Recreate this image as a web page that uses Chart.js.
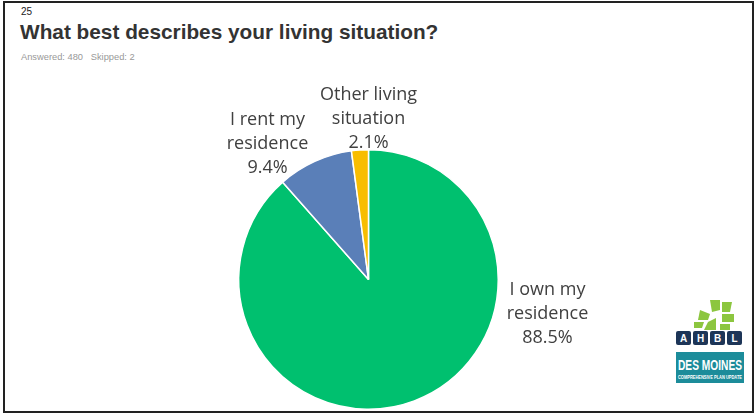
<!DOCTYPE html>
<html>
<head>
<meta charset="utf-8">
<script src="https://cdn.jsdelivr.net/npm/chart.js"></script>
<style>
  html, body { margin: 0; padding: 0; background: #fff; }
  #slide {
    position: relative; width: 755px; height: 414px; overflow: hidden;
    font-family: "Liberation Sans", Arial, sans-serif;
  }
  #frame {
    position: absolute; left: 3px; top: 1px; width: 747px; height: 408px;
    border: 2px solid #222;
  }
  #num { position: absolute; left: 21px; top: 6px; font-size: 10px; color: #222; }
  #title { position: absolute; left: 20px; top: 20px; font-size: 20.8px; font-weight: bold; color: #333; }
  #sub { position: absolute; left: 21px; top: 52px; font-size: 9.3px; color: #999; }
  #chartBox { position: absolute; left: 200px; top: 75px; width: 440px; height: 337px; }
  #logos { position: absolute; left: 674px; top: 298px; width: 72px; height: 90px; }
</style>
</head>
<body>
<div id="slide">
  <div id="frame"></div>
  <div id="num">25</div>
  <div id="title">What best describes your living situation?</div>
  <div id="sub">Answered: 480&nbsp;&nbsp;&nbsp;Skipped: 2</div>
  <div id="chartBox"><canvas id="pie"></canvas></div>
  <svg id="logos" width="72" height="90" viewBox="0 0 72 90">
    <!-- leaves -->
    <g fill="#8cc63f">
      <polygon points="36,2 46,2 46,12 38,14"/>
      <polygon points="48,4 58,4 56,14 48,14"/>
      <polygon points="26,12 36,16 34,22 24,22"/>
      <polygon points="48,16 60,16 60,24 48,24"/>
      <polygon points="34,24 42,20 42,32 30,32"/>
      <polygon points="46,26 56,26 56,32 46,32"/>
      <polygon points="20,24 30,24 28,30 20,30"/>
    </g>
    <!-- AHBL letters -->
    <g fill="#1d3557">
      <rect x="2" y="33" width="15" height="14" rx="2"/>
      <rect x="19" y="33" width="15" height="14" rx="2"/>
      <rect x="36" y="33" width="15" height="14" rx="2"/>
      <rect x="53" y="33" width="15" height="14" rx="2"/>
    </g>
    <g fill="#fff" font-family="Liberation Sans, Arial" font-weight="bold" font-size="10" text-anchor="middle">
      <text x="9.5" y="44">A</text>
      <text x="26.5" y="44">H</text>
      <text x="43.5" y="44">B</text>
      <text x="60.5" y="44">L</text>
    </g>
    <!-- Des Moines -->
    <rect x="2" y="54" width="68" height="31" fill="#1c8c9a"/>
    <text x="36" y="72" fill="#fff" font-family="Liberation Sans Narrow, Liberation Sans, Arial" font-weight="bold" font-size="14" text-anchor="middle" textLength="64" lengthAdjust="spacingAndGlyphs">DES MOINES</text>
    <text x="36" y="81" fill="#fff" font-family="Liberation Sans Narrow, Liberation Sans, Arial" font-weight="bold" font-size="5" text-anchor="middle" textLength="64" lengthAdjust="spacingAndGlyphs">COMPREHENSIVE PLAN UPDATE</text>
  </svg>
</div>
<script>
// --- data ---
const categories = ["I own my residence", "I rent my residence", "Other living situation"];
const shares = [88.5, 9.4, 2.1];
const sliceColors = ["#00c06f", "#5a7fb8", "#f8bd00"];

// label text lines and where to put them (offset from pie centre, px)
const labelLines = [
  ["I own my", "residence", "88.5%"],
  ["I rent my", "residence", "9.4%"],
  ["Other living", "situation", "2.1%"]
];
const labelOffsets = [[179, 34], [-101, -136], [0, -161]];

const outsideLabels = {
  id: 'outsideLabels',
  afterDatasetsDraw(chart) {
    const ctx = chart.ctx;
    const arcs = chart.getDatasetMeta(0).data;
    const cx = arcs[0].x, cy = arcs[0].y;
    ctx.save();
    ctx.font = '18px "Open Sans", "Noto Sans", sans-serif';
    ctx.fillStyle = '#404040';
    ctx.textAlign = 'center';
    ctx.textBaseline = 'middle';
    labelLines.forEach((lines, i) => {
      const x = cx + labelOffsets[i][0];
      const y = cy + labelOffsets[i][1];
      lines.forEach((t, j) => {
        ctx.fillText(t, x, y + (j - 1) * 24);
      });
    });
    ctx.restore();
  }
};

new Chart(document.getElementById('pie').getContext('2d'), {
  type: 'pie',
  data: {
    labels: categories,
    datasets: [{
      data: shares,
      backgroundColor: sliceColors,
      borderColor: '#ffffff',
      borderWidth: 1.5
    }]
  },
  options: {
    responsive: true,
    maintainAspectRatio: false,
    animation: false,
    layout: { padding: { left: 38, right: 141, top: 74, bottom: 2 } },
    plugins: {
      legend: { display: false },
      tooltip: { enabled: false }
    }
  },
  plugins: [outsideLabels]
});
</script>
</body>
</html>
